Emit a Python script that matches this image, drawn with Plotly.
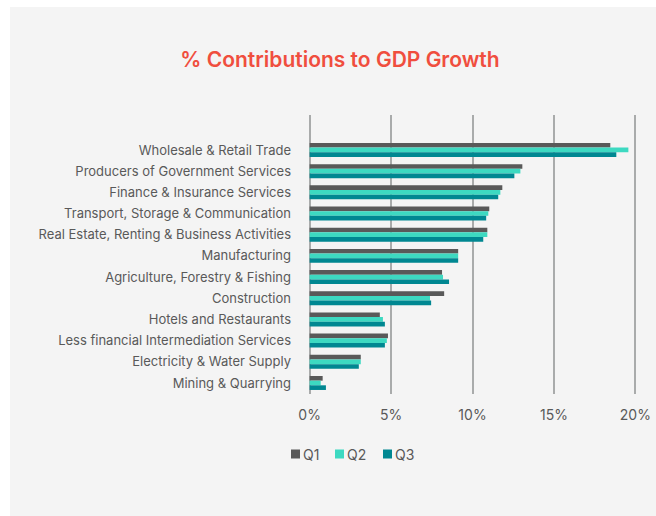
import plotly.graph_objects as go

sectors = [
    "Wholesale & Retail Trade",
    "Producers of Government Services",
    "Finance & Insurance Services",
    "Transport, Storage & Communication",
    "Real Estate, Renting & Business Activities",
    "Manufacturing",
    "Agriculture, Forestry & Fishing",
    "Construction",
    "Hotels and Restaurants",
    "Less financial Intermediation Services",
    "Electricity & Water Supply",
    "Mining & Quarrying",
]

q1 = [18.46, 13.06, 11.83, 11.03, 10.91, 9.12, 8.13, 8.26, 4.31, 4.81, 3.14, 0.80]
q2 = [19.57, 12.94, 11.71, 10.97, 10.91, 9.12, 8.19, 7.39, 4.50, 4.74, 3.14, 0.68]
q3 = [18.83, 12.57, 11.58, 10.84, 10.66, 9.12, 8.56, 7.46, 4.62, 4.62, 3.02, 1.00]

tick_vals = [0, 5, 10, 15, 20]
tick_text = ["0%", "5%", "10%", "15%", "20%"]

series = ["Q1", "Q2", "Q3"]
colors = {"Q1": "#595959", "Q2": "#3dd9c1", "Q3": "#008791"}
font = "Inter, Liberation Sans, Arial"

# plot area in px: x 308..637, y 115..394
L, R, T, B = 308, 637, 115, 394
W, H = R - L, B - T

def px_x(v):
    return (v - L) / W

def px_y(v):
    return (B - v) / H

fig = go.Figure()
for name, vals in zip(series, [q1, q2, q3]):
    fig.add_trace(go.Bar(
        y=sectors, x=vals, name=name, orientation="h",
        marker=dict(color=colors[name], line=dict(width=0)),
        hoverinfo="x+y", showlegend=False,
    ))

# grey card behind everything
fig.add_shape(type="rect", xref="paper", yref="paper",
              x0=px_x(10), x1=px_x(660), y0=px_y(520), y1=px_y(7),
              fillcolor="#f4f4f4", line=dict(width=0), layer="below")

# legend: small swatch hugging its label
legend_x = [291, 335, 383]
for name, lx in zip(series, legend_x):
    fig.add_shape(type="rect", xref="paper", yref="paper",
                  x0=px_x(lx), x1=px_x(lx + 9), y0=px_y(458.5), y1=px_y(449.5),
                  fillcolor=colors[name], line=dict(width=0))
    fig.add_annotation(text=name, xref="paper", yref="paper",
                       x=px_x(lx + 10), y=px_y(454), xanchor="left", yanchor="middle",
                       showarrow=False, font=dict(size=14, color="#595959"))

fig.update_layout(
    width=656, height=516,
    margin=dict(l=L, r=656 - R, t=T, b=516 - B, autoexpand=False),
    paper_bgcolor="white",
    plot_bgcolor="rgba(0,0,0,0)",
    barmode="group",
    bargap=0.34,
    bargroupgap=0,
    font=dict(family=font, size=13, color="#595959"),
    title=dict(
        text="% Contributions to GDP Growth",
        x=340 / 656, xanchor="center",
        y=1 - 60 / 516, yanchor="middle",
        font=dict(family=font, size=21, color="#f04e3e", weight=600),
    ),
    showlegend=False,
)

fig.update_xaxes(
    range=[-0.1, 20.1], tickvals=tick_vals, ticktext=tick_text,
    showgrid=True, gridcolor="#a9abab", gridwidth=2,
    zeroline=False, showline=False,
    tickfont=dict(size=14, color="#595959"),
    ticklabelstandoff=11, fixedrange=True,
)
fig.update_yaxes(
    categoryorder="array", categoryarray=sectors,
    range=[11.52, -1.65],
    showgrid=False, zeroline=False, showline=False,
    tickfont=dict(size=13, color="#595959"),
    ticklabelstandoff=16, fixedrange=True,
)

fig.write_html("out.html", config=dict(displayModeBar=False),
               post_script="document.body.style.margin='0';document.body.style.overflow='hidden';")
